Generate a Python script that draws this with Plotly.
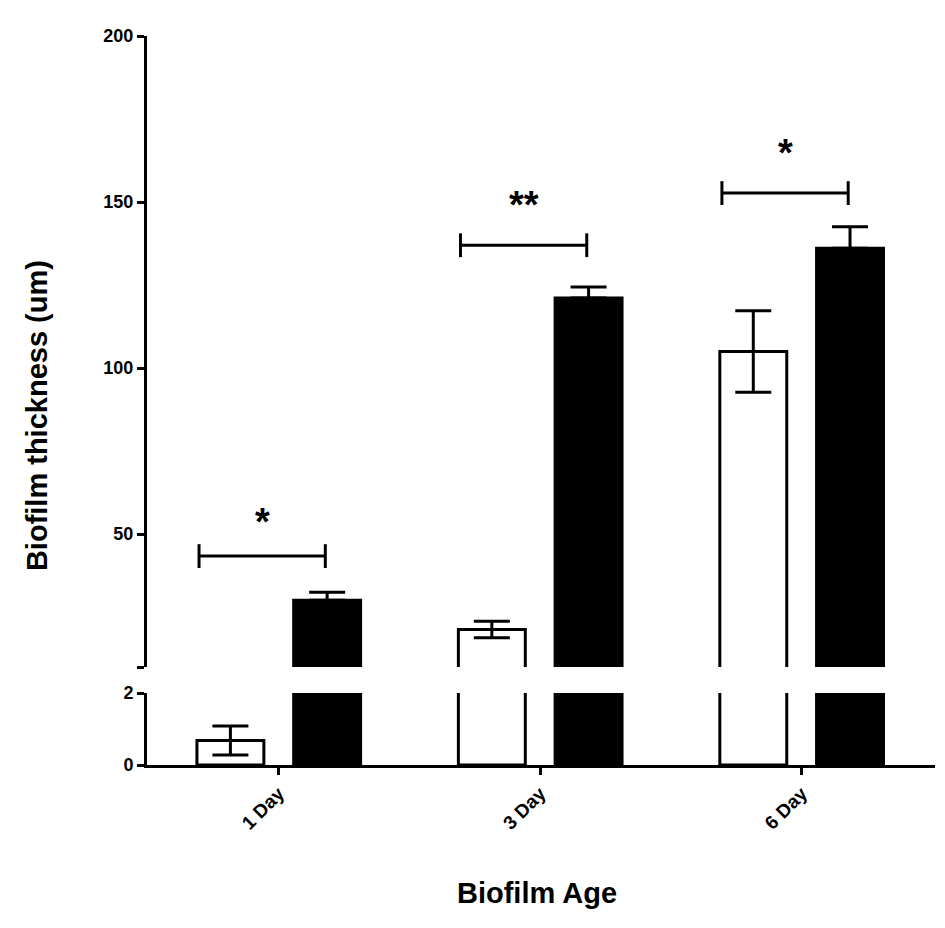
import plotly.graph_objects as go

categories = ["1 Day", "3 Day", "6 Day"]
white_vals = [0.68, 21.3, 105.0]
white_err = [0.40, 2.5, 12.3]
black_vals = [30.1, 121.1, 136.1]
black_err = [2.4, 3.3, 6.5]
bracket_y = [43.4, 137.0, 152.7]
star_y = [55.1, 150.6, 166.3]
stars = ["*", "**", "*"]

idx = list(range(len(categories)))
OFF = 0.185
BW = 0.256
FONT = "Arial, Liberation Sans, sans-serif"

fig = go.Figure()
for yax in ["y", "y2"]:
    fig.add_trace(go.Bar(
        x=[i - OFF for i in idx], y=white_vals, width=BW, yaxis=yax,
        marker=dict(color="white", line=dict(color="black", width=3)),
        error_y=dict(type="data", array=white_err, symmetric=True,
                     color="black", thickness=3, width=18),
        showlegend=False, hoverinfo="skip"))
    fig.add_trace(go.Bar(
        x=[i + OFF for i in idx], y=black_vals, width=BW, yaxis=yax,
        marker=dict(color="black", line=dict(color="black", width=3)),
        error_y=dict(type="data", array=black_err, arrayminus=[0] * 3,
                     symmetric=False, color="black", thickness=3, width=18),
        showlegend=False, hoverinfo="skip"))

# significance brackets
BL, BR = -0.305, 0.178
for i, by, sy, s in zip(idx, bracket_y, star_y, stars):
    fig.add_trace(go.Scatter(
        x=[i + BL, i + BR], y=[by, by], yaxis="y2", mode="lines+markers",
        line=dict(color="black", width=3),
        marker=dict(symbol="line-ns", size=17, line=dict(color="black", width=3)),
        showlegend=False, hoverinfo="skip"))
    fig.add_annotation(x=i + (BL + BR) / 2, y=sy, xref="x", yref="y2", text=s,
                       showarrow=False, yshift=-5, xanchor="center", yanchor="middle",
                       font=dict(family=FONT, size=38, color="black", weight="bold"))

line_common = dict(showline=True, linewidth=3, linecolor="black", ticks="outside",
                   ticklen=7, tickwidth=3, tickcolor="black", showgrid=False,
                   zeroline=False)
ytick_font = dict(family=FONT, size=18, color="black", weight="bold")

fig.update_layout(
    width=945, height=928,
    margin=dict(l=139, r=18, t=28, b=171),
    paper_bgcolor="white", plot_bgcolor="white",
    barmode="overlay",
    xaxis=dict(range=[-0.504, 2.51], tickvals=idx, ticktext=categories,
               tickangle=-45, anchor="y", **line_common,
               tickfont=dict(family=FONT, size=19, color="black", weight="bold")),
    yaxis=dict(domain=[0, 72 / 729], range=[0, 2], tickvals=[0, 2], anchor="x",
               tickfont=ytick_font, **line_common),
    yaxis2=dict(domain=[98 / 729, 1], range=[10, 200], anchor="x",
                tickvals=[10, 50, 100, 150, 200], ticktext=["", "50", "100", "150", "200"],
                tickfont=ytick_font, **line_common),
    annotations=list(fig.layout.annotations) + [
        dict(text="Biofilm thickness (um)", x=-0.1396, y=0.48, xref="paper", yref="paper",
             showarrow=False, textangle=-90, xanchor="center", yanchor="middle",
             font=dict(family=FONT, size=29, color="black", weight="bold")),
        dict(text="Biofilm Age", x=0.495, y=-0.1756, xref="paper", yref="paper",
             showarrow=False, xanchor="center", yanchor="middle",
             font=dict(family=FONT, size=29, color="black", weight="bold")),
    ],
)

fig.write_html("out.html")
